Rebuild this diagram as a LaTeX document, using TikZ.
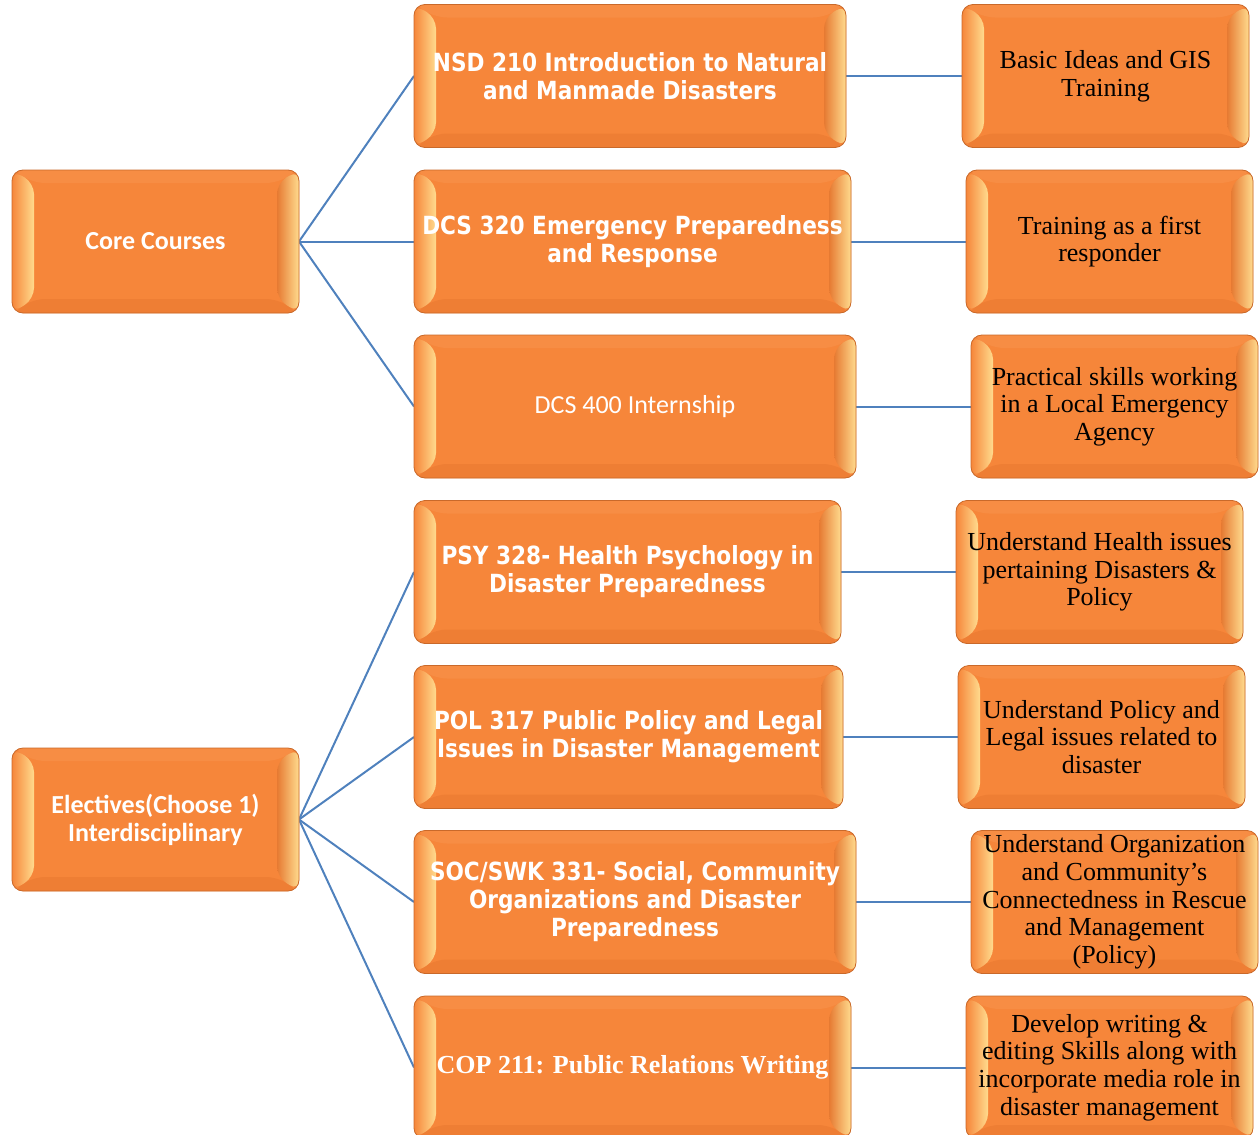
\documentclass[tikz,border=0pt]{standalone}
\usepackage{fontspec}
\setmainfont{Liberation Serif}
\newfontfamily\tahfont[FakeStretch=0.865]{DejaVu Sans}
\newfontfamily\calfont{Carlito}
\usetikzlibrary{calc,backgrounds}
\definecolor{orM}{HTML}{F6863A}
\definecolor{orD}{HTML}{C9692A}
\definecolor{orTop}{HTML}{F78D44}
\definecolor{orBot}{HTML}{EE7E34}
\definecolor{orD2}{HTML}{E67A32}
\definecolor{orL}{HTML}{FFDB8E}
\definecolor{lnk}{HTML}{4F81BD}
\tikzset{
  bx/.style={rounded corners=11pt, fill=orM, draw=orD, line width=0.8pt,
    inner sep=0pt, outer sep=0pt, align=center, minimum height=143pt,
    path picture={
      \coordinate (nw) at (path picture bounding box.north west);
      \coordinate (ne) at (path picture bounding box.north east);
      \coordinate (sw) at (path picture bounding box.south west);
      \coordinate (se) at (path picture bounding box.south east);
      \fill[orTop] (nw) -- (ne) -- ($(ne)+(-22pt,-13pt)$) -- ($(nw)+(22pt,-13pt)$) -- cycle;
      \fill[orBot] (sw) -- (se) -- ($(se)+(-22pt,14pt)$) -- ($(sw)+(22pt,14pt)$) -- cycle;
      \shade[left color=orM, right color=orL] (nw) -- ($(nw)+(22pt,-13pt)$) -- ($(sw)+(22pt,14pt)$) -- (sw) -- cycle;
      \shade[left color=orD2, right color=orL] ($(ne)+(-22pt,-13pt)$) -- (ne) -- (se) -- ($(se)+(-22pt,14pt)$) -- cycle;
    }},
  lefttxt/.style={text=white, font=\calfont\bfseries\fontsize{26}{28}\selectfont},
  midtxt/.style={text=white, font=\tahfont\bfseries\fontsize{25}{28}\selectfont},
  righttxt/.style={text=black, font=\fontsize{26}{27.7}\selectfont},
  link/.style={draw=lnk, line width=2pt}
}
\begin{document}
\begin{tikzpicture}[x=1pt,y=-1pt]
\clip (0,0) rectangle (1259,1135);
% left
\node[bx, lefttxt, minimum width=287pt] (core) at (155.5,241.5) {Core Courses};
\node[bx, lefttxt, minimum width=287pt] (elec) at (155.5,819.5) {Electives(Choose 1)\\Interdisciplinary};
% middle
\node[bx, midtxt, minimum width=432pt] (m1) at (630,76) {NSD 210 Introduction to Natural\\and Manmade Disasters};
\node[bx, midtxt, minimum width=437pt] (m2) at (632.5,241.5) {DCS 320 Emergency Preparedness\\and Response};
\node[bx, text=white, font=\calfont\fontsize{26}{28}\selectfont, minimum width=442pt] (m3) at (635,406.5) {DCS 400 Internship};
\node[bx, midtxt, minimum width=427pt] (m4) at (627.5,572) {PSY 328- Health Psychology in\\Disaster Preparedness};
\node[bx, midtxt, minimum width=429pt] (m5) at (628.5,737) {POL 317 Public Policy and Legal\\Issues in Disaster Management};
\node[bx, midtxt, minimum width=442pt] (m6) at (635,902) {SOC/SWK 331- Social, Community\\Organizations and Disaster\\Preparedness};
\node[bx, text=white, font=\bfseries\fontsize{26}{28}\selectfont, minimum width=437pt] (m7) at (632.5,1067.5) {COP 211: Public Relations Writing};
% right
\node[bx, righttxt, minimum width=287pt] (r1) at (1105.5,76) {Basic Ideas and GIS\\Training};
\node[bx, righttxt, minimum width=287pt] (r2) at (1109.5,241.5) {Training as a first\\responder};
\node[bx, righttxt, minimum width=287pt] (r3) at (1114.5,406.5) {Practical skills working\\in a Local Emergency\\Agency};
\node[bx, righttxt, minimum width=287pt] (r4) at (1099.5,572) {Understand Health issues\\pertaining Disasters \&\\Policy};
\node[bx, righttxt, minimum width=287pt] (r5) at (1101.5,737) {Understand Policy and\\Legal issues related to\\disaster};
\node[bx, righttxt, minimum width=287pt] (r6) at (1114.5,902) {Understand Organization\\and Community’s\\Connectedness in Rescue\\and Management\\(Policy)};
\node[bx, righttxt, minimum width=287pt] (r7) at (1109.5,1067.5) {Develop writing \&\\editing Skills along with\\incorporate media role in\\disaster management};
% connectors
\begin{scope}[on background layer]
\foreach \m in {m1,m2,m3} \draw[link] (core.east) -- (\m.west);
\foreach \m in {m4,m5,m6,m7} \draw[link] (elec.east) -- (\m.west);
\foreach \i in {1,...,7} \draw[link] (m\i.east) -- (r\i.west);
\end{scope}
\end{tikzpicture}
\end{document}
